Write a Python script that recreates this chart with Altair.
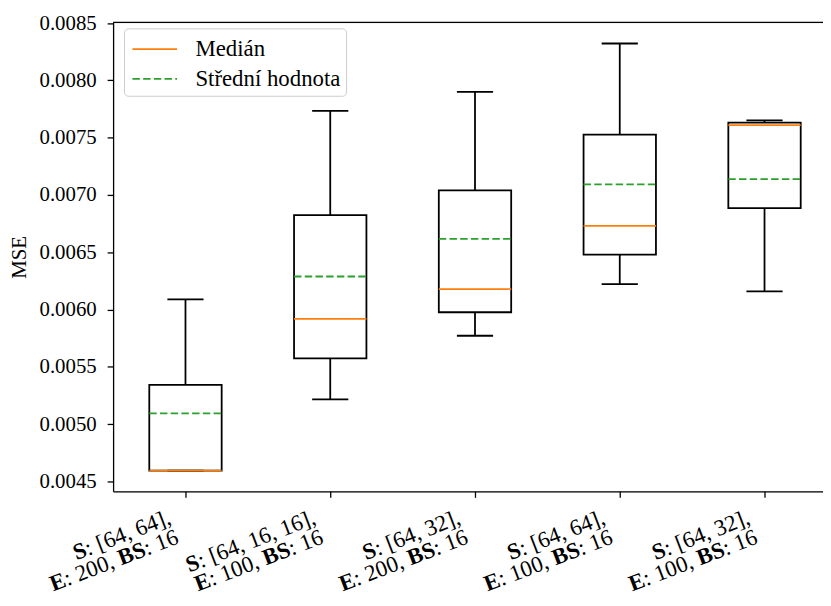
import altair as alt
import pandas as pd

# ---- data ----
positions = [1, 2, 3, 4, 5]
labels_s = ["[64, 64]", "[64, 16, 16]", "[64, 32]", "[64, 64]", "[64, 32]"]
labels_e = [200, 100, 200, 100, 100]
labels_bs = [16, 16, 16, 16, 16]

whisker_low = [0.004596, 0.005216, 0.005772, 0.006222, 0.006159]
q1 = [0.004596, 0.005574, 0.005977, 0.006479, 0.006886]
median = [0.004596, 0.005920, 0.006179, 0.006730, 0.007609]
q3 = [0.005343, 0.006825, 0.007041, 0.007526, 0.007632]
whisker_high = [0.006090, 0.007734, 0.007900, 0.008322, 0.007652]
mean = [0.005095, 0.006289, 0.006618, 0.007093, 0.007139]

y_ticks = [0.0045, 0.0050, 0.0055, 0.0060, 0.0065, 0.0070, 0.0075, 0.0080, 0.0085]
legend_names = ["Medián", "Střední hodnota"]

# ---- styling ----
W, H = 716, 473
FONT = "Liberation Serif"
FS = 21
XFS = 23
LABEL_DX = -24
LINE_DY = [25.5, 46.5]
LW = 1.8

REG_W = {" ": 0.25, ",": 0.25, ":": 0.278, "[": 0.333, "]": 0.333}
BOLD_W = {"S": 0.556, "E": 0.667, "B": 0.667}


def text_width(s, bold):
    total = 0.0
    for ch in s:
        if ch.isdigit():
            total += 0.5
        elif bold and ch in BOLD_W:
            total += BOLD_W[ch]
        else:
            total += REG_W.get(ch, 0.5)
    return total * XFS


df = pd.DataFrame({
    "pos": positions,
    "whisker_low": whisker_low,
    "q1": q1,
    "median": median,
    "q3": q3,
    "whisker_high": whisker_high,
    "mean": mean,
})

stats = pd.DataFrame({
    "pos": positions * 2,
    "stat": [legend_names[0]] * len(positions) + [legend_names[1]] * len(positions),
    "value": median + mean,
})

rows = []
for i, p in enumerate(positions):
    lines = [
        [("S", True), (f": {labels_s[i]},", False)],
        [("E", True), (f": {labels_e[i]}, ", False), ("BS", True), (f": {labels_bs[i]}", False)],
    ]
    for li, segs in enumerate(lines):
        offset = 0.0
        for txt, bold in reversed(segs):
            stripped = txt.rstrip()
            trail = text_width(txt[len(stripped):], bold)
            rows.append({
                "pos": p,
                "text": stripped,
                "weight": "bold" if bold else "normal",
                "dx": LABEL_DX - offset - trail,
                "dy": LINE_DY[li],
            })
            offset += text_width(txt, bold)
lab = pd.DataFrame(rows)

xs = alt.Scale(domain=[0.5, 5.404], nice=False, zero=False)
ys = alt.Scale(domain=[0.004414, 0.008506], nice=False, zero=False)

x_axis = alt.Axis(values=positions, labels=False, title=None, tickSize=6, tickWidth=1.3,
                  tickColor="black", domainColor="black", domainWidth=1.3, grid=False)
y_axis = alt.Axis(values=y_ticks, format=".4f", title="MSE", tickSize=6, tickWidth=1.3,
                  tickColor="black", domainColor="black", domainWidth=1.3, grid=False,
                  labelFont=FONT, labelFontSize=FS, labelColor="black", labelPadding=11,
                  titleFont=FONT, titleFontSize=FS, titleFontWeight="normal", titleColor="black",
                  titlePadding=10)


def X(f):
    return alt.X(f"{f}:Q", scale=xs, axis=x_axis)


def Y(f):
    return alt.Y(f"{f}:Q", scale=ys, axis=y_axis)


base = alt.Chart(df).transform_calculate(
    left="datum.pos - 0.25", right="datum.pos + 0.25",
    capl="datum.pos - 0.125", capr="datum.pos + 0.125",
)

rule_kw = dict(color="black", strokeWidth=LW)
whisk_hi = base.mark_rule(**rule_kw).encode(x=X("pos"), y=Y("q3"), y2="whisker_high:Q")
whisk_lo = base.mark_rule(**rule_kw).encode(x=X("pos"), y=Y("q1"), y2="whisker_low:Q")
cap_hi = base.mark_rule(**rule_kw).encode(x=X("capl"), x2="capr:Q", y=Y("whisker_high"))
cap_lo = base.mark_rule(**rule_kw).encode(x=X("capl"), x2="capr:Q", y=Y("whisker_low"))
box = base.mark_rect(fill="white", fillOpacity=0, stroke="black", strokeWidth=LW).encode(
    x=X("left"), x2="right:Q", y=Y("q1"), y2="q3:Q")

leg = alt.Legend(orient="none", legendX=11, legendY=6, title=None,
                 fillColor="rgba(255,255,255,0.8)", strokeColor="#cccccc", cornerRadius=4,
                 padding=5, rowPadding=2, labelFont=FONT, labelFontSize=23, labelColor="black",
                 symbolType="M-1.5,0L1.5,0", symbolSize=900, symbolStrokeWidth=LW,
                 symbolOffset=10, labelOffset=25)

stat_lines = alt.Chart(stats).transform_calculate(
    left="datum.pos - 0.25", right="datum.pos + 0.25"
).mark_rule(strokeWidth=LW).encode(
    x=X("left"), x2="right:Q", y=Y("value"),
    color=alt.Color("stat:N", scale=alt.Scale(domain=legend_names, range=["#ff7f0e", "#2ca02c"]), legend=leg),
    strokeDash=alt.StrokeDash("stat:N", scale=alt.Scale(domain=legend_names, range=[[1, 0], [7.5, 3.3]]), legend=leg),
)

labels = alt.Chart(lab).mark_text(
    align="right", baseline="alphabetic", angle=339, font=FONT, fontSize=XFS, color="black",
    dx=alt.expr("datum.dx"), dy=alt.expr("datum.dy"), fontWeight=alt.expr("datum.weight"),
).encode(x=X("pos"), y=alt.value(H), text="text:N")

top_spine = alt.Chart(pd.DataFrame({"k": [0]})).mark_rule(color="black", strokeWidth=1.3).encode(
    x=alt.value(0), x2=alt.value(W), y=alt.value(0))

chart = alt.layer(whisk_hi, whisk_lo, cap_hi, cap_lo, box, stat_lines, labels, top_spine).properties(
    width=W, height=H,
    padding={"left": 106, "top": 12, "right": 0, "bottom": 104},
    autosize=alt.AutoSizeParams(type="none"),
).configure_view(strokeWidth=0).configure(font=FONT)

chart.save("out.html", embed_options={"renderer": "svg", "actions": False})
